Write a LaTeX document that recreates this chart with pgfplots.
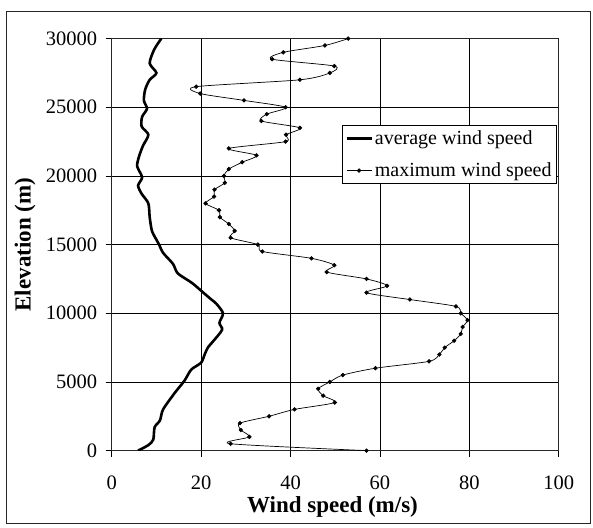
\documentclass[border=0pt]{standalone}
\usepackage{pgfplots}
\pgfplotsset{compat=1.18}
\usepackage{pgfplotstable}
\usepackage{fontspec}
\setmainfont{Liberation Serif}
\pgfplotstableread{
elev speed
0 5.9
400 8.2
800 9.3
1700 9.6
2200 10.8
3000 11.5
4200 14.1
5100 16.3
5900 17.8
6400 20.0
7000 20.8
7500 21.5
8000 22.8
8800 24.7
9300 24.1
10000 24.9
10700 23.4
11000 22.3
11500 20.5
12200 18.0
12900 14.8
13600 13.7
14400 11.5
15000 10.6
15300 10.1
16000 9.0
17000 8.5
18000 8.2
18700 6.7
19300 5.9
19900 6.8
20700 5.7
21400 6.1
22200 7.0
23000 8.2
23600 6.7
24300 6.8
24900 7.9
25500 7.2
26300 7.5
27000 8.5
27500 10.0
28200 8.5
29200 9.5
30000 11.1
}\avgdata
\pgfplotstableread{
elev speed
0 57.0
500 26.6
1000 30.8
1500 28.9
2000 28.7
2500 35.2
3000 40.9
3500 49.9
4000 47.3
4500 46.2
5000 48.8
5500 51.7
6000 59.0
6500 71.0
7000 73.3
7500 74.5
8000 76.6
8500 78.1
9000 78.5
9500 79.6
10000 78.1
10500 77.0
11000 66.7
11500 57.0
12000 61.6
12500 57.0
13000 48.1
13500 49.8
14000 44.7
14500 33.7
15000 32.7
15500 26.6
16000 27.5
16500 26.2
17000 24.2
17500 24.0
18000 21.0
18500 22.9
19000 23.0
19500 25.3
20000 25.1
20500 26.2
21000 29.2
21500 32.4
22000 26.2
22500 38.9
23000 39.0
23500 42.1
24000 33.5
24500 34.7
25000 38.9
25500 29.6
26000 19.8
26500 18.9
27000 42.1
27500 48.8
28000 49.8
28500 35.9
29000 38.4
29500 47.7
30000 52.9
}\maxdata
\begin{document}
\begin{tikzpicture}
\useasboundingbox (-111.7pt,-76.4pt) rectangle (481.3pt,450.6pt);
\draw[line width=1pt, black!85] (-104.7pt,-72.4pt) rectangle (478.3pt,438.6pt);
\begin{axis}[
  at={(0pt,0pt)}, anchor=south west,
  scale only axis, width=447pt, height=412pt,
  xmin=0, xmax=100, ymin=0, ymax=30000,
  xtick={0,20,...,100}, ytick={0,5000,...,30000},
  scaled ticks=false,
  /pgf/number format/assume math mode=true,
  /pgf/number format/1000 sep={},
  grid=major,
  major grid style={line width=0.8pt, black},
  axis line style={line width=1.2pt, black!85},
  tick align=outside, tick pos=left,
  major tick length=6pt,
  tick style={line width=0.8pt, black},
  ticklabel style={font=\fontsize{20.5}{24}\selectfont},
  xticklabel style={yshift=-16pt},
  yticklabel style={xshift=-5pt},
  xlabel={\textbf{Wind speed (m/s)}},
  ylabel={\textbf{Elevation (m)}},
  label style={font=\fontsize{23}{27}\selectfont},
  xlabel style={at={(axis description cs:0.494,-0.137)}, anchor=center},
  ylabel style={at={(axis description cs:-0.194,0.5)}, anchor=center},
  legend style={at={(0.515,0.79)}, anchor=north west,
    font=\fontsize{20}{24}\selectfont, draw=black, line width=0.8pt,
    legend cell align=left, row sep=13pt, inner sep=3pt,
    fill=white},
  legend image code/.code={\draw[mark repeat=2,mark phase=2,#1] plot coordinates {(0pt,0pt) (12.5pt,0pt) (25pt,0pt)};},
]
\addplot[black, line width=2.6pt, smooth, tension=0.45] table[x=speed, y=elev] {\avgdata};
\addlegendentry{average wind speed}
\addplot[black, line width=0.7pt, smooth, tension=0.45, mark=*, mark size=1.8pt, mark options={solid}] table[x=speed, y=elev] {\maxdata};
\addlegendentry{maximum wind speed}
\end{axis}
\end{tikzpicture}
\end{document}
